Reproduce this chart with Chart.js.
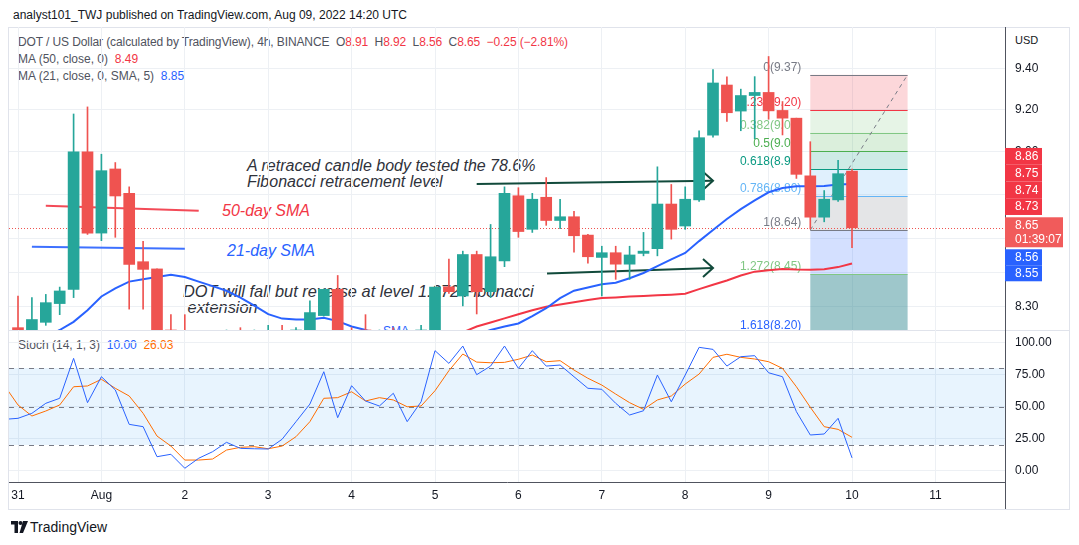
<!DOCTYPE html>
<html><head><meta charset="utf-8">
<script src="https://cdn.jsdelivr.net/npm/chart.js@4.4.1/dist/chart.umd.min.js"></script>
<style>
html,body{margin:0;padding:0;background:#fff;}
#wrap{position:relative;width:1079px;height:545px;overflow:hidden;font-family:"Liberation Sans",Arial,sans-serif;}
.t{position:absolute;white-space:nowrap;line-height:1;}
.g{color:#50535e}.r{color:#f23645}.b{color:#2962ff}.o{color:#ff6d00}
.it{font-style:italic;font-size:16px;color:#2f323b}
canvas{position:absolute;left:0;}
</style></head><body>
<div id="wrap">
<div style="position:absolute;left:8px;top:27px;width:1062px;height:483px;border:1px solid #e0e3eb;box-sizing:border-box;"></div>
<div style="position:absolute;left:9px;top:330px;width:1060px;height:1px;background:#e0e3eb;"></div>
<div style="position:absolute;left:1005px;top:482px;width:1px;height:27px;background:#50535e;"></div>
<div class="t" style="left:13px;top:9px;font-size:12px;color:#131722">analyst101_TWJ published on TradingView.com, Aug 09, 2022 14:20 UTC</div>
<div class="t g" style="left:18px;top:36px;font-size:12px;letter-spacing:-0.1px">DOT / US Dollar (calculated by TradingView), 4h, BINANCE&nbsp; O<span class="r">8.91</span>&nbsp; H<span class="r">8.92</span>&nbsp; L<span class="r">8.56</span>&nbsp; C<span class="r">8.65</span>&nbsp; <span class="r">−0.25 (−2.81%)</span></div>
<div class="t g" style="left:18px;top:53px;font-size:12px">MA (50, close, 0)&nbsp; <span class="r">8.49</span></div>
<div class="t g" style="left:18px;top:70px;font-size:12px">MA (21, close, 0, SMA, 5)&nbsp; <span class="b">8.85</span></div>
<div class="t g" style="left:18px;top:339px;font-size:12px">Stoch (14, 1, 3)&nbsp; <span class="b">10.00</span>&nbsp; <span class="o">26.03</span></div>
<div class="t" style="left:1015px;top:35px;font-size:11px;color:#131722">USD</div>
<div class="t it" style="left:247px;top:158px">A retraced candle body tested the 78.6%</div>
<div class="t it" style="left:247px;top:174px">Fibonacci retracement level</div>
<div class="t it" style="left:222px;top:203px;color:#f23645">50-day SMA</div>
<div class="t it" style="left:227px;top:243px;color:#2962ff">21-day SMA</div>
<div class="t it" style="left:183px;top:283px;font-size:16.4px">DOT will fall but reverse at level 1.272 Fibonacci</div>
<div class="t it" style="left:183px;top:299px;font-size:16.4px">&nbsp;extension</div>
<div style="position:absolute;left:380px;top:318px;width:40px;height:12px;overflow:hidden;"><div class="t b" style="left:3px;top:7px;font-size:12px">SMA</div></div>
<svg style="position:absolute;left:11px;top:521px" width="17" height="12" viewBox="0 0 17 12"><path d="M0 0H7V12H3.5V3.5H0Z" fill="#131722"/><circle cx="9.5" cy="2" r="2" fill="#131722"/><path d="M12 0H17L12 12H8.5Z" fill="#131722"/></svg>
<div class="t" style="left:30px;top:520px;font-size:14px;color:#131722">TradingView</div>
<canvas id="pc" width="1079" height="331" style="top:0"></canvas>
<canvas id="sc" width="1079" height="215" style="top:330px"></canvas>
</div>
<script>
// ---------- data (4h candles, index 0 = Jul 31 00:00) ----------
const candleIndex = Array.from({length:61},(_,i)=>i);
const opens  = [8.21,8.20,8.233,8.314,8.376,9.00,8.626,8.92,8.807,8.498,8.466,8.20,8.18,8.08,8.14,8.09,8.16,8.11,8.17,8.19,8.13,8.20,8.262,8.376,8.15,8.20,8.12,8.16,8.10,8.17,8.20,8.387,8.347,8.53,8.366,8.502,8.796,8.643,8.789,8.683,8.70,8.617,8.517,8.538,8.487,8.535,8.556,8.758,8.658,8.777,9.079,9.32,9.194,9.269,9.284,9.197,9.16,8.888,8.698,8.777,8.91];
const highs  = [8.347,8.34,8.354,8.386,9.18,9.214,8.989,8.95,8.837,8.589,8.466,8.266,8.266,8.18,8.19,8.20,8.21,8.20,8.22,8.22,8.21,8.326,8.378,8.437,8.21,8.266,8.20,8.21,8.20,8.22,8.386,8.51,8.545,8.545,8.665,8.837,8.833,8.807,8.88,8.78,8.725,8.62,8.567,8.567,8.567,8.629,8.93,8.848,8.837,9.10,9.396,9.36,9.30,9.361,9.46,9.24,9.16,9.048,8.82,8.96,8.92];
const lows   = [8.10,8.17,8.22,8.266,8.34,8.62,8.592,8.607,8.29,8.29,8.05,8.05,8.02,8.02,8.06,8.05,8.08,8.07,8.12,8.10,8.09,8.16,8.26,8.10,8.05,8.08,8.06,8.08,8.05,8.12,8.18,8.358,8.304,8.269,8.34,8.476,8.607,8.629,8.661,8.646,8.54,8.491,8.347,8.42,8.42,8.524,8.524,8.599,8.643,8.77,9.07,9.144,9.10,9.062,9.155,9.08,8.876,8.645,8.677,8.77,8.56];
const closes = [8.15,8.245,8.318,8.369,9.00,8.626,8.912,8.795,8.486,8.464,8.12,8.10,8.08,8.14,8.09,8.16,8.11,8.17,8.19,8.13,8.20,8.275,8.376,8.15,8.09,8.12,8.16,8.10,8.17,8.20,8.386,8.366,8.53,8.366,8.52,8.807,8.633,8.78,8.683,8.70,8.614,8.52,8.538,8.487,8.528,8.545,8.758,8.643,8.78,9.067,9.33,9.186,9.269,9.284,9.195,9.16,8.895,8.698,8.78,8.898,8.65];

const ma21Start = 2;
const ma21 = [8.17,8.20,8.235,8.285,8.345,8.38,8.41,8.42,8.43,8.44,8.43,8.41,8.39,8.37,8.34,8.305,8.268,8.249,8.245,8.245,8.253,8.238,8.215,8.20,8.18,8.16,8.15,8.14,8.14,8.15,8.16,8.18,8.20,8.215,8.228,8.26,8.294,8.338,8.37,8.384,8.398,8.405,8.425,8.448,8.478,8.508,8.537,8.59,8.64,8.69,8.735,8.775,8.812,8.832,8.84,8.84,8.841,8.848,8.85];
const ma50Start = 30;
const ma50 = [8.15,8.17,8.19,8.215,8.232,8.25,8.268,8.285,8.30,8.31,8.32,8.33,8.338,8.341,8.345,8.347,8.35,8.353,8.357,8.377,8.396,8.415,8.437,8.454,8.46,8.466,8.463,8.462,8.465,8.474,8.49];

const stochStart = -1;
const stochK = [40,40.8,44.7,52.5,56.4,87.5,53,73.2,62.9,36.1,34.3,10.9,12.8,1.9,9.7,14.8,22.1,17.4,17.1,16.9,24.5,38.2,51.9,77.1,41.3,66.2,54.3,50.4,60.3,38.2,53.7,93.5,83.6,97.1,74.8,81.5,97.1,79.7,93.5,81.5,82.3,73.2,64.2,63.4,52.5,43.4,46.7,74.5,53.7,74.5,96.1,94.5,81.5,88.8,89.6,76.3,73.2,46,27.8,28.6,40.8,10.0];
const stochD = [66.7,51.2,42.6,46.5,51.2,65.4,66,71.2,64.2,58.2,44.7,27,19.2,8.3,8.3,9.1,16.1,18.2,18.7,17.1,19.2,26.5,38.2,56.4,56.9,61.5,54.3,56.9,55.1,49.8,50.4,62.3,77.9,90.9,84.6,84.1,84.4,86.8,90.1,84.9,85.7,78.4,72,66.7,59.7,53,47.8,55.1,58.2,67.5,75.3,88.3,90.7,88.3,87,84.9,79.7,65.4,49.4,34.3,32.2,26.03];

const xTickIndex = [0,6,12,18,24,30,36,42,48,54,60,66];
const xTickLabels = ['31','Aug','2','3','4','5','6','7','8','9','10','11'];
const priceTicks = [8.30,8.45,8.60,8.80,9.00,9.20,9.40];
const stochTicks = [0,25,50,75,100];

const fibStartIdx = 57, fibEndIdx = 64, fibHigh = 9.37, fibLow = 8.64;
const fibLevels = [0,0.236,0.382,0.5,0.618,0.786,1,1.272,1.618];
const fibLabels = ['0(9.37)','0.236(9.20)','0.382(9.09)','0.5(9.01)','0.618(8.92)','0.786(8.80)','1(8.64)','1.272(8.45)','1.618(8.20)'];

const lastClose = 8.65;
const countdown = '01:39:07';
const redBadges = ['8.86','8.75','8.74','8.73'];
const blueBadges = ['8.56','8.55'];

// annotation drawings (index, price)
const smaRedSeg = [[2.0,8.75],[13.0,8.727]];
const smaBlueSeg = [[1.0,8.565],[12.0,8.556]];
const arrow1 = [[33.0,8.85],[50.0,8.865]];
const arrow2 = [[38.06,8.446],[50.0,8.47]];

// ---------- styles ----------
const UP='#26a69a', DOWN='#ef5350', GRID='#edf0f4', AXIS='#50535e', TXT='#131722';
const FONT='"Liberation Sans", Arial, sans-serif';
const fibLineColors=['#787b86','#f23645','#81c784','#4caf50','#089981','#64b5f6','#787b86','#81c784','#2962ff'];
const fibZoneColors=['rgba(242,54,69,0.2)','rgba(129,199,132,0.2)','rgba(76,175,80,0.2)','rgba(8,153,129,0.2)','rgba(100,181,246,0.2)','rgba(120,123,134,0.2)','rgba(41,98,255,0.2)','rgba(40,130,140,0.45)'];
const X_MIN = -0.6475, X_MAX = 71.007;

Chart.defaults.font.family = FONT;
Chart.defaults.font.size = 12;
Chart.defaults.color = TXT;

const colors = candleIndex.map(i => closes[i] >= opens[i] ? UP : DOWN);
const bodies = candleIndex.map(i => ({x:i, y:[opens[i], closes[i]]}));
const wicks = candleIndex.map(i => ({x:i, y:[lows[i], highs[i]]}));
const ma21Data = ma21.map((v,k)=>({x:ma21Start+k, y:v}));
const ma50Data = ma50.map((v,k)=>({x:ma50Start+k, y:v}));
const kData = stochK.map((v,k)=>({x:stochStart+k, y:v}));
const dData = stochD.map((v,k)=>({x:stochStart+k, y:v}));

function line(ctx, x0,y0,x1,y1){ctx.beginPath();ctx.moveTo(x0,y0);ctx.lineTo(x1,y1);ctx.stroke();}
function noPadV(s){ s.width=74; s.paddingTop=0; s.paddingBottom=0; }
function noPadH(h){ return s=>{ s.height=h; s.paddingLeft=0; s.paddingRight=0; }; }

const pricePlugin = {
  id:'pricePlugin',
  beforeDatasetsDraw(chart){
    const {ctx, chartArea:a, scales:{x,y}} = chart;
    ctx.save();
    ctx.beginPath(); ctx.rect(a.left,a.top,a.right-a.left,a.bottom-a.top); ctx.clip();
    const fx0 = x.getPixelForValue(fibStartIdx), fx1 = x.getPixelForValue(fibEndIdx);
    const fp = l => fibHigh - l*(fibHigh-fibLow);
    for(let k=0;k<fibLevels.length-1;k++){
      const ya = y.getPixelForValue(fp(fibLevels[k])), yb = y.getPixelForValue(fp(fibLevels[k+1]));
      ctx.fillStyle = fibZoneColors[k];
      ctx.fillRect(fx0, ya, fx1-fx0, yb-ya);
    }
    ctx.lineWidth = 1;
    fibLevels.forEach((l,k)=>{
      const yy = Math.round(y.getPixelForValue(fp(l)))+0.5;
      ctx.strokeStyle = fibLineColors[k];
      line(ctx, fx0, yy, fx1, yy);
      ctx.fillStyle = fibLineColors[k];
      ctx.font = '12px '+FONT;
      ctx.textAlign='right'; ctx.textBaseline='alphabetic';
      ctx.fillText(fibLabels[k], fx0-9, yy-5);
    });
    ctx.setLineDash([4,4]); ctx.strokeStyle='#787b86';
    line(ctx, fx0, y.getPixelForValue(fibLow), fx1, y.getPixelForValue(fibHigh));
    ctx.setLineDash([]);
    ctx.lineWidth = 2;
    ctx.strokeStyle = 'rgba(242,54,69,0.9)';
    line(ctx, x.getPixelForValue(smaRedSeg[0][0]), y.getPixelForValue(smaRedSeg[0][1]), x.getPixelForValue(smaRedSeg[1][0]), y.getPixelForValue(smaRedSeg[1][1]));
    ctx.strokeStyle = 'rgba(41,98,255,0.9)';
    line(ctx, x.getPixelForValue(smaBlueSeg[0][0]), y.getPixelForValue(smaBlueSeg[0][1]), x.getPixelForValue(smaBlueSeg[1][0]), y.getPixelForValue(smaBlueSeg[1][1]));
    ctx.strokeStyle = '#114a3b';
    [arrow1, arrow2].forEach(ar=>{
      const x0=x.getPixelForValue(ar[0][0]), y0=y.getPixelForValue(ar[0][1]);
      const x1=x.getPixelForValue(ar[1][0]), y1=y.getPixelForValue(ar[1][1]);
      line(ctx,x0,y0,x1,y1);
      ctx.beginPath(); ctx.moveTo(x1-10,y1-9); ctx.lineTo(x1,y1); ctx.lineTo(x1-10,y1+9); ctx.stroke();
    });
    ctx.lineWidth=1; ctx.strokeStyle=DOWN; ctx.setLineDash([1,2]);
    const cy = Math.round(y.getPixelForValue(lastClose))+0.5;
    line(ctx, a.left, cy, a.right, cy);
    ctx.restore();
  },
  afterDraw(chart){
    const {ctx, chartArea:a, scales:{y}} = chart;
    const cy = y.getPixelForValue(lastClose);
    const bx = a.right;
    ctx.save();
    ctx.font = '12px '+FONT; ctx.textAlign='left'; ctx.textBaseline='middle';
    const h = 16.75;
    redBadges.forEach((t,k)=>{
      const top = cy - 12.8 - (redBadges.length-k)*h;
      ctx.fillStyle='#f23645'; ctx.fillRect(bx, top, 37, h);
      ctx.fillStyle='#fff'; ctx.fillText(t, bx+10, top+h/2+0.5);
    });
    ctx.fillStyle='#f15b5b'; ctx.fillRect(bx, cy-10.5, 58, 30);
    ctx.fillStyle='#fff'; ctx.fillText(lastClose.toFixed(2), bx+10, cy-2.5); ctx.fillText(countdown, bx+10, cy+11.5);
    blueBadges.forEach((t,k)=>{
      const top = cy + 21.5 + k*16;
      ctx.fillStyle='#2962ff'; ctx.fillRect(bx, top, 37, 16);
      ctx.fillStyle='#fff'; ctx.fillText(t, bx+10, top+8.5);
    });
    ctx.restore();
  }
};

const priceChart = new Chart(document.getElementById('pc'), {
  type:'bar',
  data:{datasets:[
    {type:'bar', data:bodies, backgroundColor:colors, barThickness:11, grouped:false, minBarLength:1, borderWidth:0, clip:0},
    {type:'bar', data:wicks, backgroundColor:colors, barThickness:1, grouped:false, borderWidth:0, clip:0},
    {type:'line', data:ma21Data, borderColor:'#2962ff', borderWidth:2, pointRadius:0, tension:0, clip:0},
    {type:'line', data:ma50Data, borderColor:'#f23645', borderWidth:2, pointRadius:0, tension:0, clip:0}
  ]},
  options:{
    responsive:false, animation:false, devicePixelRatio:1,
    layout:{padding:{left:9, top:27, right:0, bottom:1}},
    plugins:{legend:{display:false}, tooltip:{enabled:false}},
    scales:{
      x:{type:'linear', min:X_MIN, max:X_MAX, offset:false,
        grid:{color:GRID, offset:false, drawTicks:false}, border:{display:false},
        ticks:{display:false},
        afterBuildTicks:s=>{s.ticks = xTickIndex.map(v=>({value:v}));},
        afterFit:noPadH(0)},
      y:{type:'logarithmic', position:'right', min:8.228, max:9.607,
        grid:{color:GRID, drawTicks:false}, border:{color:AXIS},
        ticks:{padding:10, color:TXT, callback:v=>Number(v).toFixed(2)},
        afterBuildTicks:s=>{s.ticks = priceTicks.map(v=>({value:v}));},
        afterFit:noPadV}
    }
  },
  plugins:[pricePlugin]
});

const stochPlugin = {
  id:'stochPlugin',
  beforeDatasetsDraw(chart){
    const {ctx, chartArea:a, scales:{y}} = chart;
    ctx.save();
    const y80=y.getPixelForValue(80), y20=y.getPixelForValue(20), y50=y.getPixelForValue(50);
    ctx.fillStyle='rgba(33,150,243,0.1)';
    ctx.fillRect(a.left, y80, a.right-a.left, y20-y80);
    ctx.strokeStyle='#787b86'; ctx.lineWidth=1; ctx.setLineDash([5,5]);
    [y80,y50,y20].forEach(v=>{const yy=Math.round(v)+0.5; line(ctx,a.left,yy,a.right,yy);});
    ctx.restore();
  }
};

const stochChart = new Chart(document.getElementById('sc'), {
  type:'line',
  data:{datasets:[
    {data:kData, borderColor:'#2962ff', borderWidth:1, pointRadius:0, tension:0, clip:0},
    {data:dData, borderColor:'#ff6d00', borderWidth:1, pointRadius:0, tension:0, clip:0}
  ]},
  options:{
    responsive:false, animation:false, devicePixelRatio:1,
    layout:{padding:{left:9, top:0, right:0, bottom:0}},
    plugins:{legend:{display:false}, tooltip:{enabled:false}},
    scales:{
      x:{type:'linear', min:X_MIN, max:X_MAX, offset:false,
        grid:{color:GRID, drawTicks:false}, border:{color:AXIS},
        ticks:{padding:6, color:TXT, maxRotation:0, autoSkip:false,
          callback:v=>{const k=xTickIndex.indexOf(v); return k>=0?xTickLabels[k]:'';}},
        afterBuildTicks:s=>{s.ticks = xTickIndex.map(v=>({value:v}));},
        afterFit:noPadH(63)},
      y:{type:'linear', position:'right', min:-8.8, max:109.6,
        grid:{color:GRID, drawTicks:false}, border:{color:AXIS},
        ticks:{padding:10, color:TXT, callback:v=>Number(v).toFixed(2)},
        afterBuildTicks:s=>{s.ticks = stochTicks.map(v=>({value:v}));},
        afterFit:noPadV}
    }
  },
  plugins:[stochPlugin]
});

// make sure the plot areas sit exactly where the panels are
function fixArea(chart, target){
  for(let k=0;k<4;k++){
    const a = chart.chartArea, p = chart.options.layout.padding;
    const dT = target.top - a.top, dB = a.bottom - target.bottom, dL = target.left - a.left, dR = a.right - target.right;
    if(Math.abs(dT)<0.3 && Math.abs(dB)<0.3 && Math.abs(dL)<0.3 && Math.abs(dR)<0.3) break;
    p.top += dT; p.bottom += dB; p.left += dL; p.right += dR;
    chart.update('none');
  }
}
fixArea(priceChart, {left:9, right:1005, top:27, bottom:330});
fixArea(stochChart, {left:9, right:1005, top:0, bottom:152});
</script>
</body></html>
